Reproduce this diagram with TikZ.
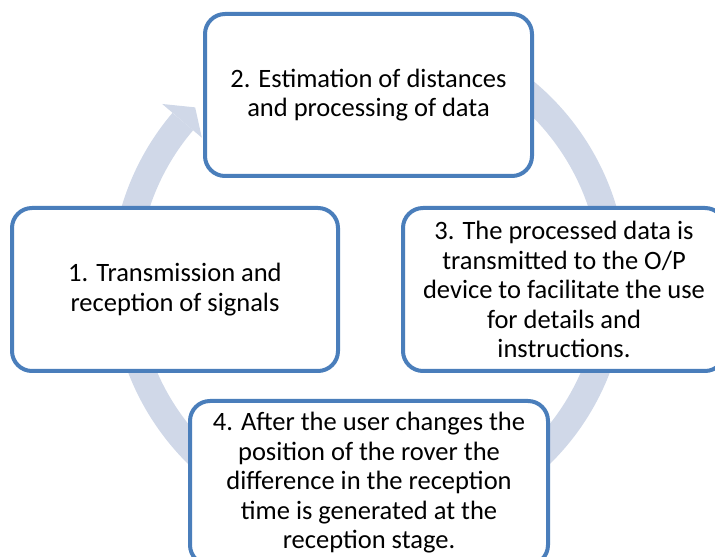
\documentclass[tikz,border=0pt]{standalone}
\usepackage{fontspec}
\setmainfont{Carlito}
\usetikzlibrary{calc}
\definecolor{boxblue}{HTML}{4A7EBB}
\definecolor{bandblue}{HTML}{D0D8E8}
\tikzset{
  stepbox/.style={draw=boxblue, line width=4pt, fill=white, rounded corners=20pt,
    align=center, inner sep=0pt, text=black,
    font=\fontsize{26.5}{29.5}\selectfont},
  band/.style={draw=bandblue, line width=27pt},
}
\begin{document}
\begin{tikzpicture}[x=1pt,y=1pt]
\useasboundingbox (0,0) rectangle (715,557);
\clip (0,0) rectangle (715,557);
\coordinate (c) at (369,277);
% circular band
\draw[band] ($(c)+(125:244.5)$) arc[start angle=125, end angle=-220.4, radius=244.5];
\fill[bandblue] ($(c)+(139.6:271.6)$) -- ($(c)+(135.2:245)$) -- ($(c)+(139.6:219.5)$) -- cycle;
% boxes
\node[stepbox, minimum width=327pt, minimum height=162pt] (b2) at (368.5,462)
  {2. Estimation of distances\\and processing of data};
\node[stepbox, minimum width=326pt, minimum height=163pt] (b1) at (175,267.5)
  {1. Transmission and\\reception of signals};
\node[stepbox, minimum width=322pt, minimum height=163pt] (b3) at (564,267.5)
  {3. The processed data is\\transmitted to the O/P\\device to facilitate the use\\for details and\\instructions.};
\node[stepbox, minimum width=358pt, minimum height=164pt] (b4) at (369,74)
  {4. After the user changes the\\position of the rover the\\difference in the reception\\time is generated at the\\reception stage.};
\end{tikzpicture}
\end{document}
